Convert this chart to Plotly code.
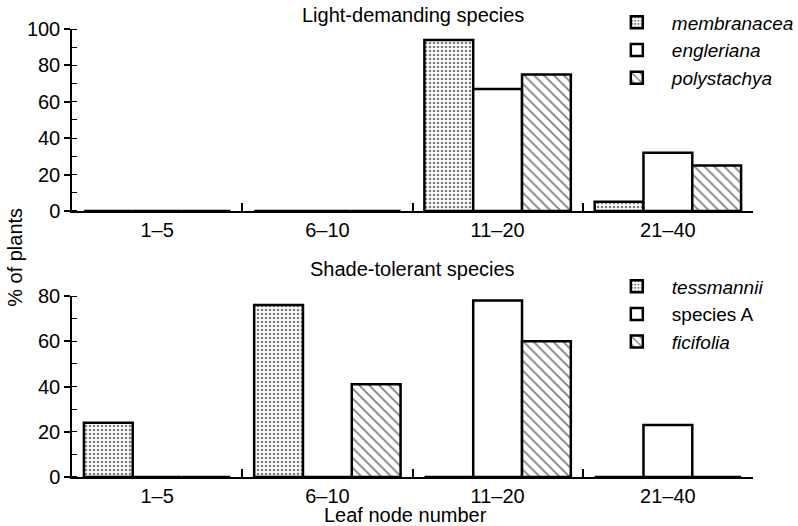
import plotly.graph_objects as go

categories = ["1–5", "6–10", "11–20", "21–40"]

# Light-demanding species (% of plants)
membranacea = [0, 0, 94, 5]
engleriana = [0, 0, 67, 32]
polystachya = [0, 0, 75, 25]

# Shade-tolerant species (% of plants)
tessmannii = [24, 76, 0, 0]
species_a = [0, 0, 78, 23]
ficifolia = [0, 41, 60, 0]

FONT = "Liberation Sans, Arial, Helvetica, sans-serif"
FS = 20

stipple = dict(shape=".", fgcolor="black", bgcolor="white", size=4, solidity=0.35, fillmode="overlay")
plain = dict(shape="", bgcolor="white")
hatch = dict(shape="\\", fgcolor="black", bgcolor="white", size=7, solidity=0.25, fillmode="overlay")

def bar(name, vals, pattern, xa, ya, leg):
    return go.Bar(
        x=categories, y=vals, name=name, xaxis=xa, yaxis=ya, legend=leg,
        marker=dict(color="white", pattern=pattern, line=dict(color="black", width=2.5)),
    )

fig = go.Figure()
fig.add_trace(bar("<i>membranacea</i>", membranacea, stipple, "x", "y", "legend"))
fig.add_trace(bar("<i>engleriana</i>", engleriana, plain, "x", "y", "legend"))
fig.add_trace(bar("<i>polystachya</i>", polystachya, hatch, "x", "y", "legend"))
fig.add_trace(bar("<i>tessmannii</i>", tessmannii, stipple, "x2", "y2", "legend2"))
fig.add_trace(bar("species A", species_a, plain, "x2", "y2", "legend2"))
fig.add_trace(bar("<i>ficifolia</i>", ficifolia, hatch, "x2", "y2", "legend2"))

xcommon = dict(
    type="category", tickson="boundaries", ticks="inside", ticklen=8, tickwidth=1.5,
    tickcolor="black", showline=True, linecolor="black", linewidth=2,
    showgrid=False, zeroline=False, tickfont=dict(family=FONT, size=FS, color="black"),
    range=[-0.5, 3.5],
)
ycommon = dict(
    ticks="outside", ticklen=6, tickwidth=1.5, tickcolor="black", dtick=20,
    showline=True, linecolor="black", linewidth=1.5, showgrid=False, zeroline=False,
    tickfont=dict(family=FONT, size=FS, color="black"),
    minor=dict(dtick=10, ticks="inside", ticklen=5, tickwidth=1.2, tickcolor="black"),
)

legcommon = dict(
    font=dict(family=FONT, size=19, color="black"), bgcolor="rgba(0,0,0,0)",
    xanchor="left", yanchor="top", itemclick=False, itemdoubleclick=False,
    tracegroupgap=0, itemwidth=60,
)

fig.update_layout(
    width=798, height=526,
    margin=dict(l=72, r=45, t=29, b=49, autoexpand=False),
    paper_bgcolor="white", plot_bgcolor="white",
    barmode="group", bargap=0.14, bargroupgap=0,
    font=dict(family=FONT, size=FS, color="black"),
    xaxis=dict(domain=[0, 1], anchor="y", **xcommon),
    yaxis=dict(domain=[0.594, 1.0], anchor="x", range=[0, 100], **ycommon),
    xaxis2=dict(domain=[0, 1], anchor="y2", **xcommon),
    yaxis2=dict(domain=[0, 0.404], anchor="x2", range=[0, 80], **ycommon),
    legend=dict(x=0.778, y=1.057, **legcommon),
    legend2=dict(x=0.778, y=0.468, **legcommon),
    annotations=[
        dict(text="Light-demanding species", xref="paper", yref="paper", x=0.5, y=1.031,
             showarrow=False, xanchor="center", yanchor="middle", font=dict(size=FS)),
        dict(text="Shade-tolerant species", xref="paper", yref="paper", x=0.5, y=0.465,
             showarrow=False, xanchor="center", yanchor="middle", font=dict(size=FS)),
        dict(text="% of plants", xref="paper", yref="paper", x=-0.084, y=0.491,
             textangle=-90, showarrow=False, xanchor="center", yanchor="middle", font=dict(size=FS)),
        dict(text="Leaf node number", xref="paper", yref="paper", x=0.49, y=-0.085,
             showarrow=False, xanchor="center", yanchor="middle", font=dict(size=FS)),
    ],
)

fig.write_html("out.html")
